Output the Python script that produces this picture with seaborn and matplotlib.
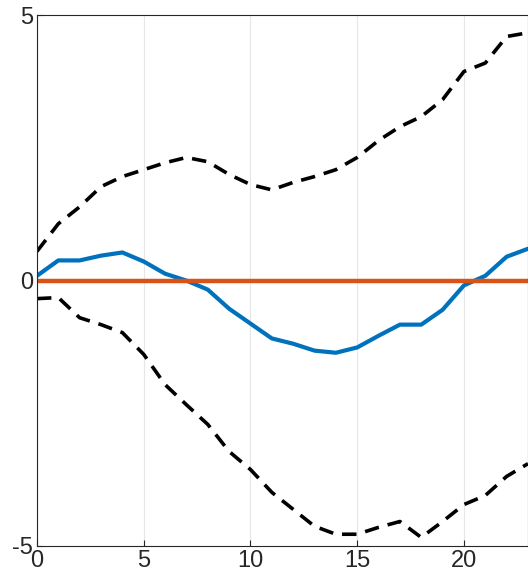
import numpy as np
import pandas as pd
import matplotlib
matplotlib.use("Agg")
import matplotlib.pyplot as plt
import seaborn as sns

steps = list(range(24))
response = [0.09, 0.38, 0.38, 0.47, 0.53, 0.36, 0.13, 0.0, -0.17, -0.53, -0.81, -1.09,
            -1.19, -1.32, -1.36, -1.26, -1.04, -0.83, -0.83, -0.55, -0.09, 0.09, 0.45, 0.6]
upper = [0.55, 1.07, 1.39, 1.77, 1.96, 2.09, 2.22, 2.32, 2.24, 2.0, 1.81, 1.71,
         1.85, 1.96, 2.09, 2.32, 2.64, 2.9, 3.09, 3.41, 3.94, 4.1, 4.6, 4.67]
lower = [-0.34, -0.32, -0.70, -0.83, -0.98, -1.39, -1.96, -2.34, -2.71, -3.22, -3.56, -3.99,
         -4.31, -4.63, -4.78, -4.78, -4.65, -4.54, -4.84, -4.54, -4.22, -4.05, -3.69, -3.45]
zero = [0.0] * len(steps)

df = pd.DataFrame({"step": steps, "resp": response, "up": upper, "lo": lower, "zero": zero})

sns.set_style("white")
plt.rcParams['font.family'] = ['Liberation Sans', 'DejaVu Sans']
plt.rcParams['axes.unicode_minus'] = False

fig, ax = plt.subplots(figsize=(5.28, 5.87), dpi=100)
fig.subplots_adjust(left=0.07, right=1.0, top=0.974, bottom=0.07)

sns.lineplot(data=df, x="step", y="up", ax=ax, color="black", lw=2.6, linestyle=(0, (4, 2.5)))
sns.lineplot(data=df, x="step", y="lo", ax=ax, color="black", lw=2.6, linestyle=(0, (4, 2.5)))
sns.lineplot(data=df, x="step", y="resp", ax=ax, color="#0072BD", lw=3)
sns.lineplot(data=df, x="step", y="zero", ax=ax, color="#D95319", lw=3.2)

ax.set_xlim(0, 23)
ax.set_ylim(-5, 5)
ax.set_xticks([0, 5, 10, 15, 20])
ax.set_yticks([-5, 0, 5])
ax.xaxis.grid(True, color="#e6e6e6", lw=0.8)
ax.set_xlabel("")
ax.set_ylabel("")
ax.tick_params(labelsize=17, length=4, direction="in", left=True, bottom=True, pad=3)
for s in ax.spines.values():
    s.set_color("#262626")
    s.set_linewidth(0.8)

plt.savefig("out.png", dpi=100)
